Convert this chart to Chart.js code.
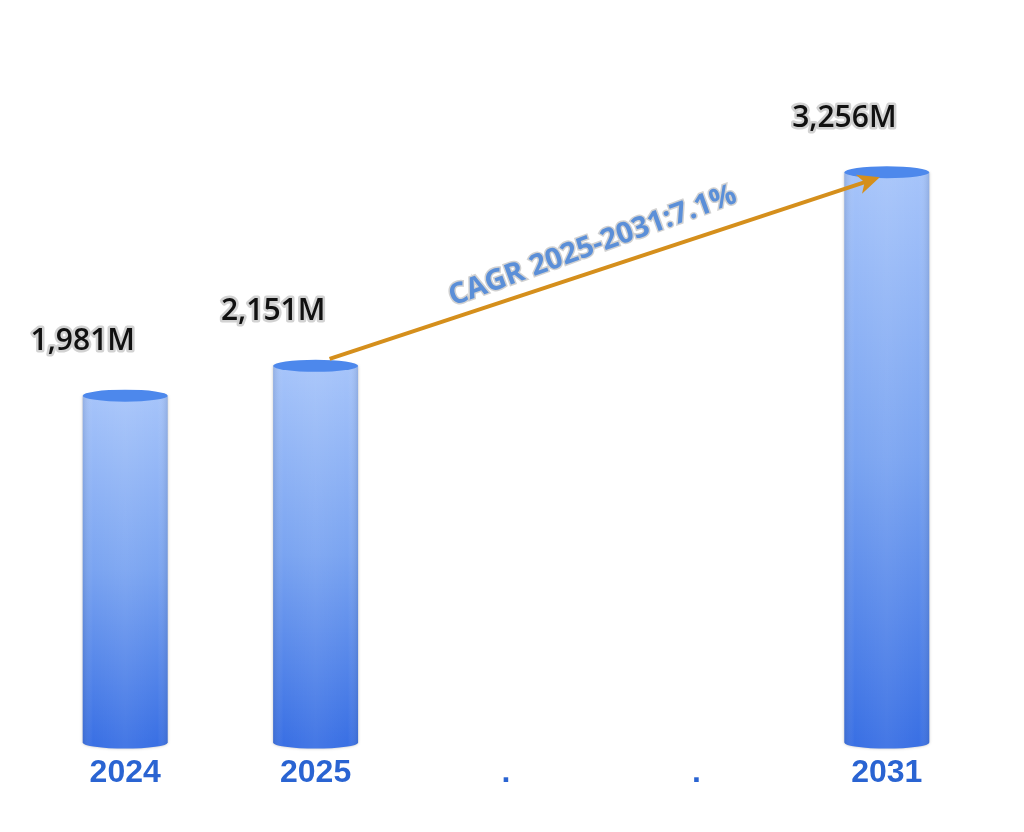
<!DOCTYPE html>
<html>
<head>
<meta charset="utf-8">
<script src="https://cdn.jsdelivr.net/npm/chart.js@4/dist/chart.umd.min.js"></script>
<style>
  html, body { margin: 0; padding: 0; background: #fff; }
  #marketChart { display: block; }
</style>
</head>
<body>
<canvas id="marketChart" width="1024" height="832"></canvas>
<script>
// chart data
const years = ['2024', '2025', '.', '.', '2031'];
const marketSize = [1981, 2151, null, null, 3256];
const valueLabels = ['1,981M', '2,151M', '', '', '3,256M'];
const cagrText = 'CAGR 2025-2031:7.1%';
const cagrFrom = 1;
const cagrTo = 4;

// draws cylinders, value labels and the CAGR arrow on top of the bar elements
const cylinderPlugin = {
  id: 'cylinders',
  afterDatasetsDraw(chart) {
    const ctx = chart.ctx;
    const bars = chart.getDatasetMeta(0).data;

    bars.forEach(function(bar, i) {
      if (marketSize[i] == null) return;
      const left = bar.x - bar.width / 2;
      const w = bar.width;
      const top = bar.y;
      const bottom = bar.base;
      const ry = 6;

      ctx.save();
      // body with vertical gradient
      const grad = ctx.createLinearGradient(0, top, 0, bottom);
      grad.addColorStop(0, '#a6c4fa');
      grad.addColorStop(0.5, '#7aa4f1');
      grad.addColorStop(1, '#3a70e4');
      ctx.beginPath();
      ctx.moveTo(left, top);
      ctx.lineTo(left, bottom);
      ctx.ellipse(bar.x, bottom, w / 2, ry, 0, Math.PI, 0, true);
      ctx.lineTo(left + w, top);
      ctx.closePath();
      ctx.shadowColor = 'rgba(0,0,0,0.25)';
      ctx.shadowBlur = 3;
      ctx.fillStyle = grad;
      ctx.fill();
      ctx.shadowBlur = 0;

      // side shading to look round
      const side = ctx.createLinearGradient(left, 0, left + w, 0);
      side.addColorStop(0, 'rgba(60,80,120,0.18)');
      side.addColorStop(0.12, 'rgba(255,255,255,0)');
      side.addColorStop(0.5, 'rgba(255,255,255,0.06)');
      side.addColorStop(0.88, 'rgba(255,255,255,0)');
      side.addColorStop(1, 'rgba(60,80,120,0.18)');
      ctx.fillStyle = side;
      ctx.fill();

      // top ellipse
      ctx.beginPath();
      ctx.ellipse(bar.x, top, w / 2, ry, 0, 0, Math.PI * 2);
      ctx.fillStyle = '#4d88ec';
      ctx.fill();

      // value label, centred on the bar's left edge
      ctx.font = '600 30px "Open Sans", "Noto Sans", sans-serif';
      ctx.textAlign = 'center';
      ctx.textBaseline = 'middle';
      ctx.lineJoin = 'round';
      ctx.lineWidth = 5;
      ctx.strokeStyle = 'rgba(205,205,205,0.9)';
      ctx.strokeText(valueLabels[i], left, top - 54);
      ctx.fillStyle = '#111';
      ctx.fillText(valueLabels[i], left, top - 54);
      ctx.restore();
    });

    // CAGR arrow between the two bar tops
    const a = bars[cagrFrom];
    const b = bars[cagrTo];
    const x1 = a.x + 14, y1 = a.y - 7;
    const x2 = b.x - 7, y2 = b.y + 5;
    const ang = Math.atan2(y2 - y1, x2 - x1);

    ctx.save();
    ctx.strokeStyle = '#d58f1c';
    ctx.fillStyle = '#d58f1c';
    ctx.lineWidth = 4;
    ctx.beginPath();
    ctx.moveTo(x1, y1);
    ctx.lineTo(x2 - 14 * Math.cos(ang), y2 - 14 * Math.sin(ang));
    ctx.stroke();
    ctx.translate(x2, y2);
    ctx.rotate(ang);
    ctx.beginPath();
    ctx.moveTo(0, 0);
    ctx.lineTo(-22, -10);
    ctx.lineTo(-16, 0);
    ctx.lineTo(-22, 10);
    ctx.closePath();
    ctx.fill();
    ctx.restore();

    // CAGR text along the arrow
    ctx.save();
    const mx = (x1 + x2) / 2, my = (y1 + y2) / 2;
    ctx.translate(mx - 12, my - 22);
    ctx.rotate(-20 * Math.PI / 180);
    ctx.font = 'bold 29px "Open Sans", "Noto Sans", sans-serif';
    ctx.textAlign = 'center';
    ctx.textBaseline = 'middle';
    ctx.lineWidth = 3;
    ctx.strokeStyle = 'rgba(190,190,190,0.7)';
    ctx.strokeText(cagrText, 0, 0);
    ctx.fillStyle = '#5b8fd8';
    ctx.fillText(cagrText, 0, 0);
    ctx.restore();
  }
};

document.addEventListener('DOMContentLoaded', function() {
  const ctx = document.getElementById('marketChart').getContext('2d');

  new Chart(ctx, {
    type: 'bar',
    data: {
      labels: years,
      datasets: [{
        label: 'Market size',
        data: marketSize,
        backgroundColor: 'rgba(0,0,0,0)',
        borderWidth: 0,
        barPercentage: 0.446,
        categoryPercentage: 1
      }]
    },
    options: {
      responsive: false,
      animation: false,
      layout: {
        padding: { top: 42, left: 30, right: 42, bottom: 29 }
      },
      plugins: {
        legend: { display: false },
        tooltip: { enabled: false }
      },
      scales: {
        x: {
          grid: { display: false, drawTicks: false },
          border: { display: false },
          ticks: {
            padding: 11,
            color: '#2a64d2',
            font: { family: '"Liberation Sans", Arial, sans-serif', size: 32, weight: 'bold' }
          }
        },
        y: {
          display: false,
          min: 0,
          max: 4000
        }
      }
    },
    plugins: [cylinderPlugin]
  });
});
</script>
</body>
</html>
